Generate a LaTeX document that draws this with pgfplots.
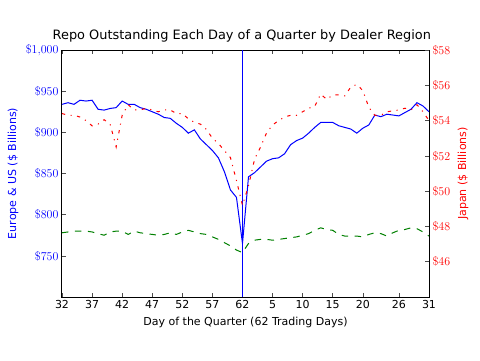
\documentclass[border=0pt]{standalone}
\usepackage{pgfplots}
\pgfplotsset{compat=1.18}
\usepackage{pgfplotstable}
\usepackage{fontspec}
\setmainfont{DejaVu Sans}
\definecolor{mblue}{rgb}{0,0,1}
\definecolor{mred}{rgb}{1,0,0}
\definecolor{mgreen}{rgb}{0,0.5,0}

\pgfplotstableread{
i eu
0 934
1 936
2 934
3 939
4 938
5 939
6 928
7 927
8 929
9 930
10 938
11 934
12 934
13 930
14 928
15 925
16 922
17 918
18 917
19 911
20 906
21 899
22 903
23 892
24 885
25 878
26 869
27 852
28 830
29 821
30 765
31 846
32 851
33 858
34 865
35 868
36 869
37 874
38 885
39 890
40 893
41 899
42 906
43 912
44 912
45 912
46 908
47 906
48 904
49 899
50 905
51 909
52 921
53 919
54 922
55 921
56 920
57 924
58 928
59 936
60 932
61 925
}\eudata

\pgfplotstableread{
i jp
0 54.4
1 54.3
2 54.3
3 54.2
4 54.0
5 53.7
6 53.8
7 54.05
8 53.8
9 52.5
10 54.3
11 54.9
12 54.6
13 54.6
14 54.7
15 54.6
16 54.5
17 54.6
18 54.6
19 54.4
20 54.4
21 54.1
22 53.9
23 53.8
24 53.5
25 53.0
26 52.7
27 52.3
28 51.9
29 50.6
30 49.2
31 50.3
32 51.8
33 52.5
34 53.3
35 53.75
36 54.0
37 54.2
38 54.3
39 54.3
40 54.5
41 54.7
42 54.8
43 55.5
44 55.2
45 55.45
46 55.45
47 55.4
48 55.9
49 56.05
50 55.7
51 54.75
52 54.3
53 54.3
54 54.5
55 54.55
56 54.6
57 54.7
58 54.6
59 54.9
60 54.5
61 54.0
}\jpdata

\pgfplotstableread{
i us
0 778
1 779
2 780
3 780
4 780
5 779
6 777
7 775
8 779
9 780
10 780
11 776
12 780
13 778
14 777
15 776
16 775
17 776
18 778
19 776
20 779
21 781
22 779
23 777
24 776
25 773
26 770
27 766
28 762
29 757
30 754
31 765
32 769
33 770
34 770
35 769
36 770
37 771
38 772
39 773
40 775
41 777
42 781
43 784
44 782
45 781
46 776
47 774
48 774
49 774
50 773
51 776
52 778
53 777
54 774
55 778
56 781
57 782
58 784
59 783
60 779
61 774
}\usdata

\begin{document}
\begin{tikzpicture}[x=1pt,y=1pt]
\useasboundingbox (0,0) rectangle (480,360);
\begin{axis}[
  scale only axis, width=367pt, height=247pt,
  at={(62pt,63pt)}, anchor=south west,
  xmin=0, xmax=61, ymin=700, ymax=1000,
  xtick={0,5,10,15,20,25,30,35,40,45,50,56,61},
  xticklabels={32,37,42,47,52,57,62,5,10,15,20,26,31},
  xticklabel style={font=\fontsize{11}{13}\selectfont, text=black},
  ytick={750,800,850,900,950,1000},
  yticklabels={$\$750$,$\$800$,$\$850$,$\$900$,$\$950$,$\$1{,}000$},
  yticklabel style={font=\fontsize{11.5}{13}\selectfont, text=mblue},
  ytick pos=left,
  tick align=inside,
  major tick length=4pt,
  every tick/.style={black!70, line width=0.5pt},
  axis line style={black, line width=1pt},
  title={Repo Outstanding Each Day of a Quarter by Dealer Region},
  title style={font=\fontsize{12.9}{15}\selectfont, at={(axis description cs:0.49,1.02)}, anchor=base},
  xlabel={Day of the Quarter (62 Trading Days)},
  xlabel style={font=\fontsize{11}{13}\selectfont, at={(axis description cs:0.5,-0.105)}, anchor=center},
  ylabel={Europe \& US (\$ Billions)},
  ylabel style={font=\fontsize{11}{13}\selectfont, text=mblue, at={(axis description cs:-0.133,0.5)}, anchor=center, rotate=0},
  clip=true,
]
\addplot[mblue, line width=1pt] coordinates {(30,700) (30,1000)};
\addplot[mblue, line width=1pt] table[x=i, y=eu] {\eudata};
\addplot[mgreen, line width=1pt, dash pattern=on 6.5pt off 6.5pt] table[x=i, y=us] {\usdata};
\end{axis}
\begin{axis}[
  scale only axis, width=367pt, height=247pt,
  at={(62pt,63pt)}, anchor=south west,
  xmin=0, xmax=61, ymin=44, ymax=58,
  axis x line=none,
  axis y line*=right,
  ytick={46,48,50,52,54,56,58},
  yticklabels={$\$46$,$\$48$,$\$50$,$\$52$,$\$54$,$\$56$,$\$58$},
  yticklabel style={font=\fontsize{11.5}{13}\selectfont, text=mred},
  tick align=inside,
  major tick length=4pt,
  every tick/.style={black!70, line width=0.5pt},
  axis line style={black, line width=1pt},
  ylabel={Japan (\$ Billions)},
  ylabel style={font=\fontsize{11}{13}\selectfont, text=mred, at={(axis description cs:1.093,0.5)}, anchor=center, rotate=0},
]
\addplot[mred, line width=1pt, dash pattern=on 3.3pt off 5.5pt on 1.1pt off 5.5pt] table[x=i, y=jp] {\jpdata};
\end{axis}
\end{tikzpicture}
\end{document}
